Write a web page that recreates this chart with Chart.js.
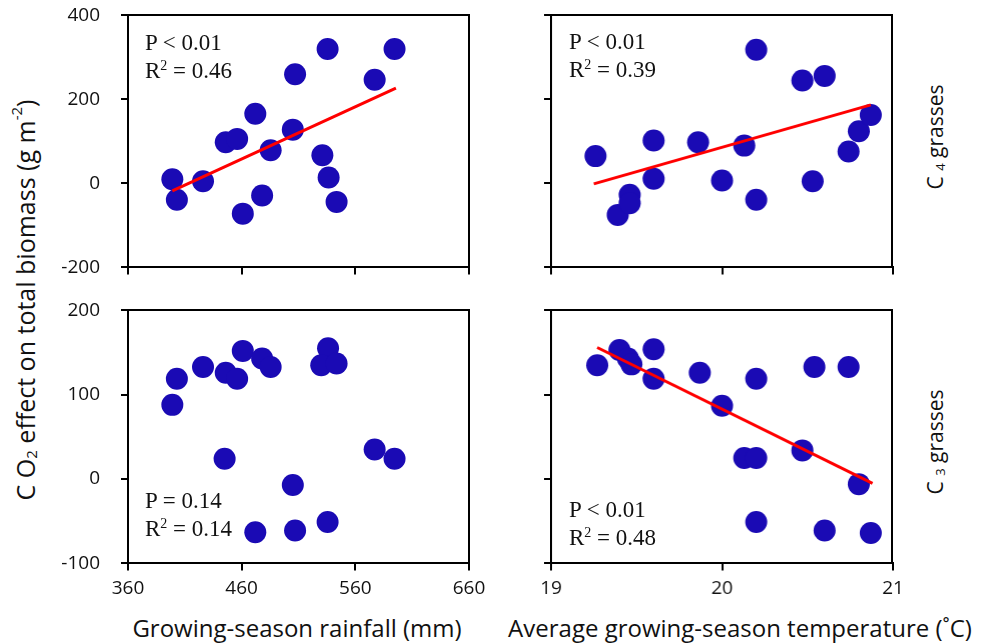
<!DOCTYPE html>
<html>
<head>
<meta charset="utf-8">
<script src="https://cdn.jsdelivr.net/npm/chart.js@4"></script>
<style>
    body { margin: 0; background: #fff; }
    #wrap { position: relative; width: 981px; height: 644px; overflow: hidden; font-family: "Open Sans", sans-serif; color: #111; }
    #titles { position: absolute; left: 0; top: 0; }
    #frames { position: absolute; left: 0; top: 0; z-index: 10; pointer-events: none; }
    .panel { position: absolute; }
    .stat { position: absolute; z-index: 11; font-family: "Liberation Serif", serif; font-size: 23px; line-height: 28px; white-space: nowrap; }
    .stat sup { font-size: 14px; vertical-align: 8px; line-height: 0; }
</style>
</head>
<body>
<div id="wrap">
    <!-- axis titles and row labels -->
    <svg id="titles" width="981" height="644" font-family="Open Sans, sans-serif" fill="#111">
        <text transform="translate(25,300) rotate(-90)" text-anchor="middle" dominant-baseline="central" font-size="25">C O<tspan font-size="15" dy="6">2</tspan><tspan dy="-6"> effect on total biomass (g m</tspan><tspan font-size="15" dy="-9">-2</tspan><tspan dy="9">)</tspan></text>
        <text transform="translate(935,137) rotate(-90)" text-anchor="middle" dominant-baseline="central" font-size="21">C <tspan font-size="13" dy="5">4</tspan><tspan dy="-5"> grasses</tspan></text>
        <text transform="translate(935,442) rotate(-90)" text-anchor="middle" dominant-baseline="central" font-size="21">C <tspan font-size="13" dy="5">3</tspan><tspan dy="-5"> grasses</tspan></text>
        <text x="297" y="627" text-anchor="middle" dominant-baseline="central" font-size="24">Growing-season rainfall (mm)</text>
        <text x="740" y="627" text-anchor="middle" dominant-baseline="central" font-size="24">Average growing-season temperature (˚C)</text>
    </svg>

    <div class="panel" id="p1"><canvas id="c1"></canvas></div>
    <div class="panel" id="p2"><canvas id="c2"></canvas></div>
    <div class="panel" id="p3"><canvas id="c3"></canvas></div>
    <div class="panel" id="p4"><canvas id="c4"></canvas></div>

    <!-- frames round the plot areas, filled in from the panel boxes below -->
    <svg id="frames" width="981" height="644"></svg>

    <div class="stat" style="left:145px; top:29px;">P &lt; 0.01<br>R<sup>2</sup> = 0.46</div>
    <div class="stat" style="left:569px; top:28px;">P &lt; 0.01<br>R<sup>2</sup> = 0.39</div>
    <div class="stat" style="left:145px; top:487px;">P = 0.14<br>R<sup>2</sup> = 0.14</div>
    <div class="stat" style="left:569px; top:496px;">P &lt; 0.01<br>R<sup>2</sup> = 0.48</div>
</div>

<script>
// rainfall (mm) vs C4 effect
const rainC4x = [399, 403, 426, 446, 456, 472, 461, 478, 485.5, 507, 505, 535.6, 531, 536.5, 543.5, 577, 594.5];
const rainC4y = [10, -39, 5, 98, 106, 166, -72, -29, 79, 260, 128, 320, 67, 14, -44, 247, 320];
const rainC4fitX = [399, 595.7];
const rainC4fitY = [-18, 227];

// temperature vs C4 effect
const tempC4x = [19.26, 19.39, 19.46, 19.46, 19.60, 19.60, 19.86, 20.00, 20.13, 20.20, 20.20, 20.47, 20.60, 20.53, 20.74, 20.80, 20.87];
const tempC4y = [65, -75, -27, -47, 102, 11, 98, 7, 90, 318, -39, 245, 256, 5, 76, 124, 163];
const tempC4fitX = [19.25, 20.87];
const tempC4fitY = [-1, 187];

// rainfall vs C3 effect (no significant fit)
const rainC3x = [399, 403, 426, 446, 456, 461, 478, 485.5, 445, 505, 472, 507, 535.6, 536, 530, 543.5, 577, 594.5];
const rainC3y = [88, 119, 133, 126, 119, 152, 143, 133, 24, -7, -63, -61, -51, 155, 135, 137, 35, 24];

// temperature vs C3 effect
const tempC3x = [19.27, 19.40, 19.45, 19.47, 19.60, 19.60, 19.87, 20.00, 20.20, 20.13, 20.20, 20.47, 20.54, 20.74, 20.80, 20.20, 20.60, 20.87];
const tempC3y = [135, 153, 143, 136, 154, 119, 126, 87, 119, 25, 25, 34, 133, 133, -6, -51, -61, -64];
const tempC3fitX = [19.27, 20.88];
const tempC3fitY = [156, -5];

// axis ranges / tick steps
const rainTicks = [360, 660, 100];
const tempTicks = [19, 21, 1];
const c4Ticks = [-200, 400, 200];
const c3Ticks = [-100, 200, 100];

const dotColor = '#1a0ab4';
const fitColor = '#ff0000';

function toPoints(xs, ys) {
    return xs.map((x, i) => ({ x: x, y: ys[i] }));
}

function addFrame(area) {
    const svg = document.getElementById('frames');
    const r = document.createElementNS('http://www.w3.org/2000/svg', 'rect');
    r.setAttribute('x', area.left);
    r.setAttribute('y', area.top);
    r.setAttribute('width', area.right - area.left);
    r.setAttribute('height', area.bottom - area.top);
    r.setAttribute('fill', 'none');
    r.setAttribute('stroke', '#000');
    r.setAttribute('stroke-width', '2');
    svg.appendChild(r);
}

function makePanel(id, area, xs, ys, fitX, fitY, xr, yr, showX, showY) {
    const box = document.getElementById('p' + id);
    let w = (area.right - area.left) + (showY ? 80 : 30);
    let h = (area.bottom - area.top) + (showX ? 60 : 30);
    box.style.width = w + 'px';
    box.style.height = h + 'px';

    const datasets = [{
        type: 'scatter',
        data: toPoints(xs, ys),
        backgroundColor: dotColor,
        borderWidth: 0,
        pointRadius: 11,
        order: 2
    }];
    if (fitX) {
        datasets.push({
            type: 'line',
            data: toPoints(fitX, fitY),
            borderColor: fitColor,
            borderWidth: 3,
            pointRadius: 0,
            fill: false,
            order: 1
        });
    }

    const tickFont = { family: 'Open Sans', size: 19 };

    const chart = new Chart(document.getElementById('c' + id), {
        type: 'scatter',
        data: { datasets: datasets },
        options: {
            responsive: true,
            maintainAspectRatio: false,
            animation: false,
            layout: { padding: { top: 12, right: 12, left: 0, bottom: 0 } },
            plugins: { legend: { display: false }, tooltip: { enabled: false } },
            scales: {
                x: {
                    type: 'linear',
                    min: xr[0], max: xr[1],
                    border: { display: true, color: '#000', width: 2 },
                    grid: { drawOnChartArea: false, color: '#000', lineWidth: 2, tickLength: 7 },
                    ticks: {
                        stepSize: xr[2],
                        padding: 7,
                        color: showX ? '#111' : 'rgba(0,0,0,0)',
                        font: tickFont,
                        maxRotation: 0
                    }
                },
                y: {
                    type: 'linear',
                    min: yr[0], max: yr[1],
                    afterFit: s => { s.width = showY ? 70 : 20; },
                    border: { display: true, color: '#000', width: 2 },
                    grid: { drawOnChartArea: false, color: '#000', lineWidth: 2, tickLength: 7 },
                    ticks: {
                        stepSize: yr[2],
                        padding: 21,
                        color: showY ? '#111' : 'rgba(0,0,0,0)',
                        font: tickFont
                    }
                }
            }
        }
    });

    // resize the canvas so the plot area lands exactly on the wanted box
    const a = chart.chartArea;
    w = w + (area.right - area.left) - (a.right - a.left);
    h = h + (area.bottom - area.top) - (a.bottom - a.top);
    box.style.width = w + 'px';
    box.style.height = h + 'px';
    chart.resize(w, h);
    const b = chart.chartArea;
    box.style.left = (area.left - b.left) + 'px';
    box.style.top = (area.top - b.top) + 'px';

    addFrame(area);
}

makePanel(1, { left: 128, right: 469, top: 15, bottom: 267 }, rainC4x, rainC4y, rainC4fitX, rainC4fitY, rainTicks, c4Ticks, false, true);
makePanel(2, { left: 551, right: 892, top: 15, bottom: 267 }, tempC4x, tempC4y, tempC4fitX, tempC4fitY, tempTicks, c4Ticks, false, false);
makePanel(3, { left: 128, right: 469, top: 310, bottom: 563 }, rainC3x, rainC3y, null, null, rainTicks, c3Ticks, true, true);
makePanel(4, { left: 551, right: 892, top: 310, bottom: 563 }, tempC3x, tempC3y, tempC3fitX, tempC3fitY, tempTicks, c3Ticks, true, false);
</script>
</body>
</html>
